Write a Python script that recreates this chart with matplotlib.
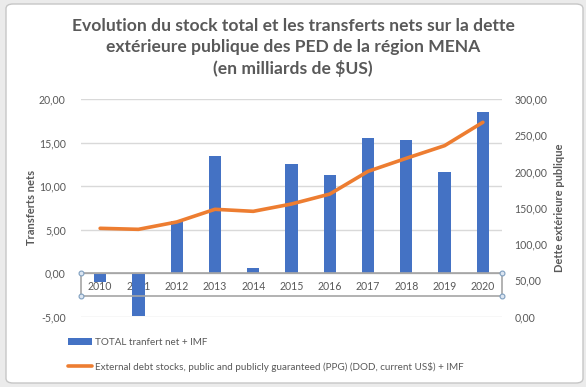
import matplotlib
matplotlib.use("Agg")
import matplotlib.pyplot as plt
import matplotlib.transforms as mtransforms
from matplotlib.patches import FancyBboxPatch, Rectangle
from matplotlib.ticker import FuncFormatter, MultipleLocator

years = ["2010", "2011", "2012", "2013", "2014", "2015", "2016", "2017", "2018", "2019", "2020"]
transferts = [-1.0, -4.9, 6.0, 13.5, 0.6, 12.55, 11.3, 15.55, 15.3, 11.65, 18.55]
dette = [121.8, 120.4, 130.5, 148.0, 145.2, 155.3, 169.0, 200.3, 218.3, 235.7, 267.9]
label_bar = "TOTAL tranfert net + IMF"
label_line = "External debt stocks, public and publicly guaranteed (PPG) (DOD, current US$) + IMF"
title = ("Evolution du stock total et les transferts nets sur la dette\n"
         "extérieure publique des PED de la région MENA\n(en milliards de $US)")

W, H = 586, 387
plt.rcParams['font.family'] = ['Lato', 'DejaVu Sans']
fig = plt.figure(figsize=(W / 100, H / 100), dpi=100, facecolor='#ebebeb')

frame = FancyBboxPatch((6 / W, 4 / H), (583 - 6) / W, (383 - 4) / H,
                       boxstyle="round,pad=0,rounding_size=0.012",
                       transform=fig.transFigure, facecolor='white',
                       edgecolor='#c6c6c6', linewidth=1.0, zorder=-5)
fig.patches.append(frame)

gray = '#595959'
tick_fs = 7.6
ax = fig.add_axes([81 / W, (H - 316.7) / H, (502 - 81) / W, (316.7 - 99) / H])
ax.set_facecolor('none')
x = list(range(len(years)))
bars = ax.bar(x, transferts, width=0.32, color='#4472C4', zorder=2, label=label_bar)
ax.set_xlim(-0.5, len(years) - 0.5)
ax.set_ylim(-5, 20)
ax.yaxis.set_major_locator(MultipleLocator(5))
fmt = FuncFormatter(lambda v, p: f"{v:.2f}".replace('.', ','))
ax.yaxis.set_major_formatter(fmt)
ax.grid(axis='y', color='#d9d9d9', linewidth=1.0, zorder=0)
ax.set_axisbelow(True)
for s in ['top', 'right', 'left']:
    ax.spines[s].set_visible(False)
ax.spines['bottom'].set_position(('data', 0))
ax.spines['bottom'].set_color('#a6a6a6')
ax.set_xticks(x)
ax.set_xticklabels(years)
ax.tick_params(axis='x', length=0, pad=6, labelsize=tick_fs, labelcolor=gray)
ax.tick_params(axis='y', length=0, pad=11, labelsize=tick_fs, labelcolor=gray)
ax.set_ylabel("Transferts nets", fontsize=8, fontweight='bold', color=gray, labelpad=1)

# selection box around category axis
trans = mtransforms.blended_transform_factory(ax.transAxes, ax.transData)
ax.add_patch(Rectangle((0, -2.6), 1, 2.6, transform=trans, fill=False,
                       edgecolor='#a6a6a6', linewidth=1.2, clip_on=False, zorder=3))
ax.plot([0, 1, 0, 1], [0, 0, -2.6, -2.6], transform=trans, linestyle='none',
        marker='o', markersize=3.5, markerfacecolor='#dce6f2', markeredgecolor='#7f9fbf',
        markeredgewidth=0.8, clip_on=False, zorder=4)

ax2 = ax.twinx()
line, = ax2.plot(x, dette, color='#ED7D31', linewidth=2.6, solid_capstyle='round',
                 zorder=5, label=label_line)
ax2.set_ylim(0, 300)
ax2.yaxis.set_major_locator(MultipleLocator(50))
ax2.yaxis.set_major_formatter(fmt)
for s in ax2.spines.values():
    s.set_visible(False)
ax2.tick_params(axis='y', length=0, pad=9, labelsize=tick_fs, labelcolor=gray)
ax2.set_ylabel("Dette extérieure publique", fontsize=8, fontweight='bold', color=gray,
               labelpad=5)

fig.text(0.5, 1 - 47.5 / H, title, ha='center', va='center', fontsize=12.6,
         fontweight='bold', color=gray, linespacing=1.38)

fig.legend(handles=[bars, line], loc='upper left',
           bbox_to_anchor=(68 / W, 1 - 338 / H), frameon=False, fontsize=7.1,
           labelcolor=gray, handlelength=2.4, handletextpad=0.3, labelspacing=1.5,
           borderaxespad=0, borderpad=0)

fig.savefig("out.png", dpi=100, facecolor=fig.get_facecolor())
